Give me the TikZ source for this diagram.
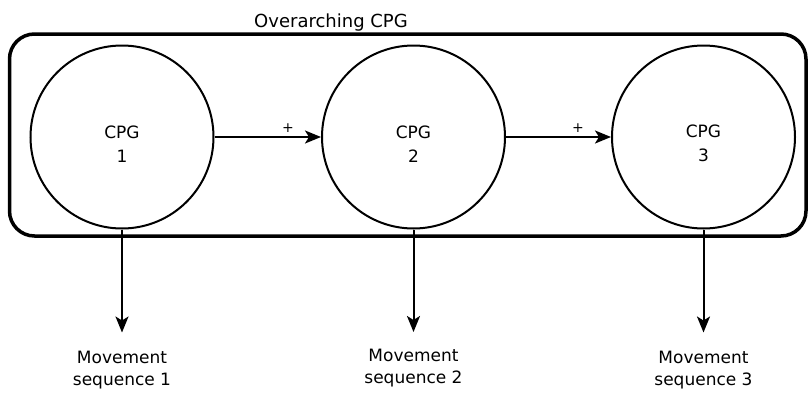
\documentclass[tikz,border=0pt]{standalone}
\usepackage{fontspec}
\setmainfont{DejaVu Sans}
\usetikzlibrary{arrows.meta}
\begin{document}
\begin{tikzpicture}[x=1pt,y=1pt,
  cpg/.style={circle, draw, line width=2pt, minimum size=183pt, inner sep=0pt},
  cpgtext/.style={font=\fontsize{17}{24}\selectfont, align=center, inner sep=0pt},
  lbl/.style={font=\fontsize{17}{22}\selectfont, align=center, inner sep=0pt, anchor=north},
  sig/.style={font=\fontsize{14}{16}\selectfont, inner sep=0pt},
  conn/.style={line width=2pt, -{Stealth[length=16pt,width=13pt,inset=4pt]}},
]
\useasboundingbox (0,0) rectangle (809,-394);
\node[draw, line width=3.5pt, rounded corners=25pt, minimum width=796.5pt, minimum height=202pt, inner sep=0pt] (outer) at (407.75,-135) {};
\node[font=\fontsize{18}{20}\selectfont, anchor=base, inner sep=0pt] (title) at (331,-27) {Overarching CPG};

\node[cpg] (c1) at (122,-137) {};
\node[cpg] (c2) at (413.5,-137) {};
\node[cpg] (c3) at (703.5,-137) {};

\node[cpgtext] (t1) at ([yshift=-6.8pt]c1.center) {CPG\\1};
\node[cpgtext] (t2) at ([yshift=-6.8pt]c2.center) {CPG\\2};
\node[cpgtext] (t3) at ([yshift=-6.8pt]c3.center) {CPG\\3};

\draw[conn] (c1.east) -- (c2.west);
\draw[conn] (c2.east) -- (c3.west);
\node[sig] (p1) at (288,-128) {+};
\node[sig] (p2) at (578,-128) {+};

\node[lbl] (m1) at (122,-350.5) {Movement\\sequence 1};
\node[lbl] (m2) at (413.5,-349) {Movement\\sequence 2};
\node[lbl] (m3) at (703.5,-350.5) {Movement\\sequence 3};

\draw[conn, shorten >=18pt] (c1.south) -- (m1.north);
\draw[conn, shorten >=17pt] (c2.south) -- (m2.north);
\draw[conn, shorten >=18pt] (c3.south) -- (m3.north);
\end{tikzpicture}
\end{document}
